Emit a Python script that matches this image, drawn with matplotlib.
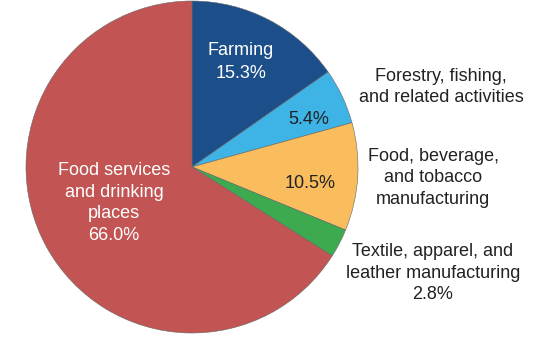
import matplotlib.pyplot as plt

# Share of employment by sector (percent)
labels = ['Farming', 'Forestry, fishing,\nand related activities',
          'Food, beverage,\nand tobacco\nmanufacturing',
          'Textile, apparel, and\nleather manufacturing',
          'Food services\nand drinking\nplaces']
shares = [15.3, 5.4, 10.5, 2.8, 66.0]
colors = ['#1C4F8A', '#3EB3E6', '#F9BD5E', '#3DAA4F', '#C25553']

plt.rcParams['font.family'] = ['Liberation Sans', 'DejaVu Sans']

fig = plt.figure(figsize=(5.38, 3.44), dpi=100)
ax = fig.add_axes([0, 0, 1, 1])

cx, cy, r = 192, 344 - 167, 166
ax.pie(shares, colors=colors, startangle=90, counterclock=False,
       center=(cx, cy), radius=r, frame=True,
       wedgeprops=dict(edgecolor='#666666', linewidth=0.4))
ax.set_xlim(0, 538)
ax.set_ylim(0, 344)
ax.set_aspect('equal')
ax.axis('off')

fs = 13
ls = 1.35
# labels inside the wedges
ax.text(241, 344 - 62, f'{labels[0]}\n{shares[0]:.1f}%', color='white',
        ha='center', va='center', fontsize=fs, linespacing=1.45)
ax.text(309, 344 - 119, f'{shares[1]:.1f}%', color='#222222',
        ha='center', va='center', fontsize=fs)
ax.text(310, 344 - 184, f'{shares[2]:.1f}%', color='#222222',
        ha='center', va='center', fontsize=fs)
ax.text(114, 344 - 203, f'{labels[4]}\n{shares[4]:.1f}%', color='white',
        ha='center', va='center', fontsize=fs, linespacing=ls)

# labels outside the pie
ax.text(441, 344 - 87, labels[1], color='#222222',
        ha='center', va='center', fontsize=fs, linespacing=ls)
ax.text(433, 344 - 178, labels[2], color='#222222',
        ha='center', va='center', fontsize=fs, linespacing=ls)
ax.text(433, 344 - 273, f'{labels[3]}\n{shares[3]:.1f}%', color='#222222',
        ha='center', va='center', fontsize=fs, linespacing=ls)

fig.savefig('out.png', dpi=100)
